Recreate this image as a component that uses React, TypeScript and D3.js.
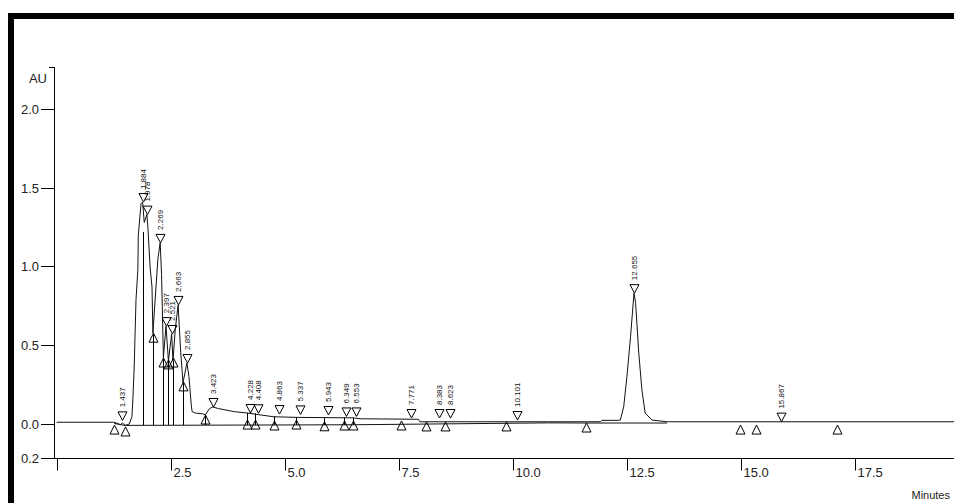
import React, { useEffect, useRef } from "react";
import * as d3 from "d3";

// detector trace, [minutes, AU]
const trace: [number, number][] = [
  [0, 0.008], [1.25, 0.008], [1.32, 0.002], [1.4, -0.008], [1.44, 0.004],
  [1.5, -0.012], [1.59, -0.004], [1.65, 0.043], [1.67, 0.15], [1.7, 0.36],
  [1.72, 0.58], [1.74, 0.79], [1.78, 0.98], [1.79, 1.2], [1.85, 1.4],
  [1.884, 1.41], [1.92, 1.28], [1.978, 1.33], [2.0, 1.25], [2.05, 0.99],
  [2.09, 0.87], [2.11, 0.575], [2.15, 0.75], [2.22, 1.05], [2.269, 1.15],
  [2.3, 0.95], [2.34, 0.42], [2.397, 0.62], [2.45, 0.4], [2.521, 0.57],
  [2.55, 0.4], [2.6, 0.6], [2.663, 0.755], [2.72, 0.45], [2.77, 0.26],
  [2.855, 0.385], [2.9, 0.3], [2.95, 0.12], [2.97, 0.075], [3.05, 0.066],
  [3.2, 0.062], [3.26, 0.055], [3.35, 0.095], [3.423, 0.105], [3.55, 0.095],
  [3.9, 0.075], [4.17, 0.067], [4.75, 0.043], [5.27, 0.039], [6.5, 0.036],
  [6.65, 0.03], [7.93, 0.027], [7.96, 0.011], [10.78, 0.011], [11.92, 0.011],
  [11.95, 0.02], [12.3, 0.02], [12.357, 0.022], [12.43, 0.107], [12.5, 0.298],
  [12.58, 0.553], [12.655, 0.83], [12.69, 0.77], [12.76, 0.45], [12.83, 0.21],
  [12.9, 0.067], [13.05, 0.022], [13.38, 0.011], [19.7, 0.011],
];

// integration baseline
const baseline: [number, number][] = [
  [1.26, 0.0], [1.5, -0.012], [6.5, -0.008], [10.78, 0.004], [11.61, 0.003], [13.38, 0.003],
];

// peak apex markers
const peakTimes = [1.437, 1.884, 1.978, 2.269, 2.397, 2.521, 2.663, 2.855, 3.423, 4.228, 4.408,
  4.863, 5.337, 5.943, 6.349, 6.553, 7.771, 8.383, 8.623, 10.101, 12.655, 15.867];
const peakLabels = ["1.437", "1.884", "1.978", "2.269", "2.397", "2.521", "2.663", "2.855", "3.423",
  "4.228", "4.408", "4.863", "5.337", "5.943", "6.349", "6.553", "7.771", "8.383", "8.623",
  "10.101", "12.655", "15.867"];
const peakAU = [0.02, 1.41, 1.33, 1.15, 0.62, 0.57, 0.755, 0.385, 0.105, 0.067, 0.065,
  0.06, 0.058, 0.054, 0.045, 0.045, 0.035, 0.035, 0.035, 0.022, 0.83, 0.012];

// peak start/end markers
const boundTimes = [1.26, 1.5, 2.11, 2.34, 2.45, 2.55, 2.77, 3.26, 4.17, 4.35, 4.77, 5.25, 5.87,
  6.29, 6.5, 7.55, 8.1, 8.52, 9.85, 11.61, 14.97, 15.34, 17.1];
const boundAU = [-0.01, -0.022, 0.575, 0.417, 0.405, 0.417, 0.265, 0.054, 0.022, 0.022, 0.016,
  0.022, 0.011, 0.016, 0.016, 0.016, 0.01, 0.01, 0.01, 0.003, -0.01, -0.01, -0.01];

// drop lines between fused peaks
const dropTimes = [1.9, 2.11, 2.34, 2.45, 2.55, 2.77, 3.26, 4.17, 4.35, 4.77, 5.25, 5.87, 6.29, 6.5];
const dropTop = [1.22, 0.575, 0.42, 0.4, 0.4, 0.26, 0.055, 0.067, 0.065, 0.045, 0.039, 0.039, 0.038, 0.036];
const dropBottom = -0.01;

const yTicks = [2.0, 1.5, 1.0, 0.5, 0.0, -0.22];
const yTickLabels = ["2.0", "1.5", "1.0", "0.5", "0.0", "0.2"];
const xTicks = [0, 2.5, 5, 7.5, 10, 12.5, 15, 17.5];
const xTickLabels = ["", "2.5", "5.0", "7.5", "10.0", "12.5", "15.0", "17.5"];

const W = 954;
const H = 503;
const font = "'Liberation Sans', Arial, sans-serif";

export default function App() {
  const ref = useRef<SVGSVGElement>(null);

  useEffect(() => {
    const svg = d3.select(ref.current);
    svg.selectAll("*").remove();

    const x = d3.scaleLinear().domain([0, 17.5]).range([56.65, 855]);
    const y = d3.scaleLinear().domain([0, 2]).range([423.5, 109.4]);
    const yBottom = Math.round(y(-0.22)) + 0.5;
    const axisX = 54.5;

    // frame
    svg.append("rect").attr("width", W).attr("height", H).attr("fill", "#fff");
    svg.append("rect").attr("x", 8).attr("y", 13).attr("width", W - 8).attr("height", 6).attr("fill", "#000");
    svg.append("rect").attr("x", 8).attr("y", 13).attr("width", 6).attr("height", H - 13).attr("fill", "#000");

    const g = svg.append("g").attr("fill", "none").attr("stroke", "#000").attr("stroke-width", 1);

    // y axis
    g.append("line").attr("x1", axisX).attr("x2", axisX).attr("y1", 67).attr("y2", yBottom);
    g.append("line").attr("x1", 49).attr("x2", axisX).attr("y1", 67.5).attr("y2", 67.5);
    yTicks.forEach((v, i) => {
      const yy = i === yTicks.length - 1 ? yBottom : Math.round(y(v)) + 0.5;
      g.append("line").attr("x1", 41).attr("x2", axisX).attr("y1", yy).attr("y2", yy);
      svg.append("text").attr("x", 39).attr("y", yy).attr("dy", "0.36em")
        .attr("text-anchor", "end").attr("font-family", font).attr("font-size", 13)
        .attr("fill", "#222").text(yTickLabels[i]);
    });
    svg.append("text").attr("x", 47).attr("y", 83).attr("text-anchor", "end")
      .attr("font-family", font).attr("font-size", 13).attr("fill", "#222").text("AU");

    // x axis
    g.append("line").attr("x1", axisX).attr("x2", W).attr("y1", yBottom).attr("y2", yBottom);
    xTicks.forEach((t, i) => {
      const xx = Math.round(x(t)) + 0.5;
      g.append("line").attr("x1", xx).attr("x2", xx).attr("y1", yBottom).attr("y2", yBottom + 12);
      svg.append("text").attr("x", xx + 2).attr("y", 477).attr("font-family", font)
        .attr("font-size", 13).attr("fill", "#222").text(xTickLabels[i]);
    });
    svg.append("text").attr("x", 950).attr("y", 499).attr("text-anchor", "end")
      .attr("font-family", font).attr("font-size", 11).attr("fill", "#222").text("Minutes");

    const line = d3.line<[number, number]>().x((d) => x(d[0])).y((d) => y(d[1]));

    // baseline and trace
    g.append("path").attr("d", line(baseline)).attr("stroke", "#111");
    g.append("path").attr("d", line(trace)).attr("stroke", "#111");

    // drop lines
    dropTimes.forEach((t, i) => {
      const xx = Math.round(x(t)) + 0.5;
      g.append("line").attr("x1", xx).attr("x2", xx).attr("y1", y(dropTop[i])).attr("y2", y(dropBottom));
    });

    // boundary markers (up triangles)
    boundTimes.forEach((t, i) => {
      const cx = Math.round(x(t)) + 0.5;
      const tip = y(boundAU[i]);
      g.append("path").attr("d", `M${cx},${tip}L${cx + 4.5},${tip + 9}L${cx - 4.5},${tip + 9}Z`);
    });

    // apex markers (down triangles) and labels
    peakTimes.forEach((t, i) => {
      const cx = Math.round(x(t)) + 0.5;
      const tip = y(peakAU[i]);
      g.append("path").attr("d", `M${cx - 4.5},${tip - 8.5}L${cx + 4.5},${tip - 8.5}L${cx},${tip}Z`);
      svg.append("text")
        .attr("transform", `translate(${cx},${tip - 13}) rotate(-90)`)
        .attr("dy", "0.35em").attr("font-family", font).attr("font-size", 8)
        .attr("fill", "#111").text(peakLabels[i]);
    });
  }, []);

  return (
    <svg
      ref={ref}
      width={W}
      height={H}
      style={{ position: "absolute", left: 0, top: 0, display: "block" }}
    />
  );
}
